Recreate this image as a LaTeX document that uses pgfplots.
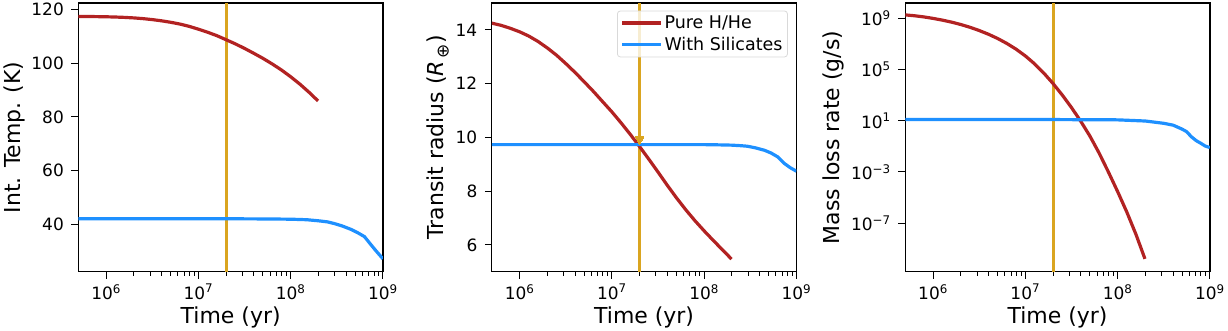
\documentclass[border=0pt]{standalone}
\usepackage{fontspec}
\setmainfont{DejaVu Sans}
\usepackage{pgfplots}
\pgfplotsset{compat=1.18}
\definecolor{cred}{RGB}{178,34,34}
\definecolor{cblue}{RGB}{30,144,255}
\definecolor{corange}{RGB}{218,165,32}
\begin{document}
\begin{tikzpicture}
% Panel 1
\begin{axis}[width=305pt, height=269pt, scale only axis,
    xmode=log, xmin=5e5, xmax=1e9,
    xtick={1e6,1e7,1e8,1e9},
    xticklabels={10\textsuperscript{6},10\textsuperscript{7},10\textsuperscript{8},10\textsuperscript{9}},
    tick align=outside, tick pos=left,
    major tick length=7pt, minor tick length=4pt,
    axis line style={line width=1.3pt},
    every tick/.style={black, line width=1pt},
    tick label style={font=\fontsize{17}{19}\selectfont},
    xticklabel style={yshift=-2pt},
    yticklabel style={xshift=-4pt},
    label style={font=\fontsize{22}{26}\selectfont},
    xlabel={Time (yr)},
  anchor=south west, at={(0pt,0pt)}, ymin=22.2, ymax=122.5, ytick={40,60,80,100,120},
  yticklabel={\pgfmathprintnumber[assume math mode=true]{\tick}},
  ylabel={Int. Temp. (K)}]
\addplot[color=corange, line width=3pt, forget plot] coordinates {(2e7,0) (2e7,200)};
\addplot[color=cred, line width=3.2pt, line join=round] coordinates {
(5.012e5,117.5) (6.31e5,117.47) (7.943e5,117.43) (1e6,117.37) (1.259e6,117.28) (1.585e6,117.14)
(1.995e6,116.95) (2.512e6,116.68) (3.162e6,116.32) (3.981e6,115.87) (5.012e6,115.32) (6.31e6,114.65)
(7.943e6,113.8) (1e7,112.74) (1.259e7,111.6) (1.585e7,110.32) (1.995e7,108.81) (2.512e7,107.26)
(3.162e7,105.57) (3.981e7,103.74) (5.012e7,101.84) (6.31e7,99.76) (7.943e7,97.51) (1e8,94.98)
(1.259e8,92.22) (1.585e8,89.16) (1.98e8,85.95)};
\addplot[color=cblue, line width=3.2pt, line join=round] coordinates {
(5e5,42.0) (1e7,42.0) (5e7,41.9) (1e8,41.8) (1.5e8,41.6) (2e8,41.2) (2.5e8,40.8) (2.95e8,40.2)
(3.6e8,39.3) (4.5e8,38.0) (5.3e8,36.8) (6.3e8,35.3) (7.4e8,32.3) (8.5e8,29.8) (1e9,27.0)};
\end{axis}
% Panel 2
\begin{axis}[width=305pt, height=269pt, scale only axis,
    xmode=log, xmin=5e5, xmax=1e9,
    xtick={1e6,1e7,1e8,1e9},
    xticklabels={10\textsuperscript{6},10\textsuperscript{7},10\textsuperscript{8},10\textsuperscript{9}},
    tick align=outside, tick pos=left,
    major tick length=7pt, minor tick length=4pt,
    axis line style={line width=1.3pt},
    every tick/.style={black, line width=1pt},
    tick label style={font=\fontsize{17}{19}\selectfont},
    xticklabel style={yshift=-2pt},
    yticklabel style={xshift=-4pt},
    label style={font=\fontsize{22}{26}\selectfont},
    xlabel={Time (yr)},
  anchor=south west, at={(414pt,0pt)}, ymin=5.0, ymax=15.0, ytick={6,8,10,12,14},
  yticklabel={\pgfmathprintnumber[assume math mode=true]{\tick}},
  ylabel={Transit radius ({\itshape R}\raisebox{-0.4ex}{\fontsize{17}{17}\selectfont\,⊕})},
  legend style={at={(0.972,0.972)}, anchor=north east, draw=black!15, line width=0.8pt,
    rounded corners=3pt, fill=white, fill opacity=0.8, text opacity=1,
    font=\fontsize{17.5}{20}\selectfont, inner xsep=3pt, inner ysep=3pt,
    row sep=3pt},
  legend cell align=left,
  legend image code/.code={\draw[#1] (0pt,0pt) -- (39pt,0pt);}]
\addplot[color=corange, line width=3pt, forget plot] coordinates {(2e7,0) (2e7,20)};
\addplot[color=corange, forget plot, only marks, mark=triangle*, mark size=5pt, mark options={rotate=180, line width=0pt}] coordinates {(2e7,9.93)};
\addplot[color=cred, line width=3.2pt, line join=round] coordinates {
(5.012e5,14.25) (6.31e5,14.17) (7.943e5,14.06) (1e6,13.93) (1.259e6,13.77) (1.585e6,13.57)
(1.995e6,13.33) (2.512e6,13.06) (3.162e6,12.75) (3.981e6,12.42) (5.012e6,12.07) (6.31e6,11.71)
(7.943e6,11.33) (1e7,10.95) (1.259e7,10.54) (1.585e7,10.11) (1.995e7,9.66) (2.512e7,9.19)
(3.162e7,8.71) (3.981e7,8.22) (5.012e7,7.75) (6.31e7,7.31) (7.943e7,6.9) (1e8,6.52)
(1.259e8,6.16) (1.585e8,5.81) (1.98e8,5.47)};
\addlegendentry{Pure H/He}
\addplot[color=cblue, line width=3.2pt, line join=round] coordinates {
(5e5,9.73) (1e7,9.73) (1e8,9.73) (1.5e8,9.72) (2e8,9.71) (2.5e8,9.69) (2.95e8,9.67)
(3.6e8,9.61) (4.5e8,9.52) (5.3e8,9.42) (6.3e8,9.27) (7.4e8,9.03) (8.5e8,8.88) (1e9,8.74)};
\addlegendentry{With Silicates}
\end{axis}
% Panel 3
\begin{axis}[width=305pt, height=269pt, scale only axis,
    xmode=log, xmin=5e5, xmax=1e9,
    xtick={1e6,1e7,1e8,1e9},
    xticklabels={10\textsuperscript{6},10\textsuperscript{7},10\textsuperscript{8},10\textsuperscript{9}},
    tick align=outside, tick pos=left,
    major tick length=7pt, minor tick length=4pt,
    axis line style={line width=1.3pt},
    every tick/.style={black, line width=1pt},
    tick label style={font=\fontsize{17}{19}\selectfont},
    xticklabel style={yshift=-2pt},
    yticklabel style={xshift=-4pt},
    label style={font=\fontsize{22}{26}\selectfont},
    xlabel={Time (yr)},
  anchor=south west, at={(828pt,0pt)}, ymode=log, ymin=1.58e-11, ymax=1.58e10,
  ytick={1e-7,1e-3,1e1,1e5,1e9},
  yticklabels={10\textsuperscript{−7},10\textsuperscript{−3},10\textsuperscript{1},10\textsuperscript{5},10\textsuperscript{9}},
  minor ytick={},
  ylabel={Mass loss rate (g/s)}]
\addplot[color=corange, line width=3pt, forget plot] coordinates {(2e7,1e-20) (2e7,1e20)};
\addplot[color=cred, line width=3.2pt, line join=round] coordinates {
(5.012e5,1.862e9) (6.31e5,1.607e9) (7.943e5,1.306e9) (1e6,1.0e9) (1.259e6,7.328e8) (1.585e6,5.105e8)
(1.995e6,3.334e8) (2.512e6,2.018e8) (3.162e6,1.130e8) (3.981e6,5.794e7) (5.012e6,2.679e7)
(6.31e6,1.096e7) (7.943e6,3.917e6) (1e7,1.169e6) (1.259e7,2.805e5) (1.585e7,5.346e4)
(1.995e7,8.185e3) (2.512e7,1.030e3) (3.162e7,1.079e2) (3.981e7,9.290) (5.012e7,0.631)
(6.31e7,2.951e-2) (7.943e7,1e-3) (1e8,2.951e-5) (1.259e8,7.244e-7) (1.585e8,1.259e-8) (1.98e8,1.585e-10)};
\addplot[color=cblue, line width=3.2pt, line join=round] coordinates {
(5e5,12.6) (1e7,12.6) (1e8,11.7) (2e8,9.5) (3.16e8,6.3) (4e8,4.5) (5e8,2.2)
(5.6e8,1.4) (6.3e8,0.56) (7.1e8,0.28) (8e8,0.17) (8.9e8,0.105) (1e9,0.08)};
\end{axis}
\end{tikzpicture}
\end{document}
